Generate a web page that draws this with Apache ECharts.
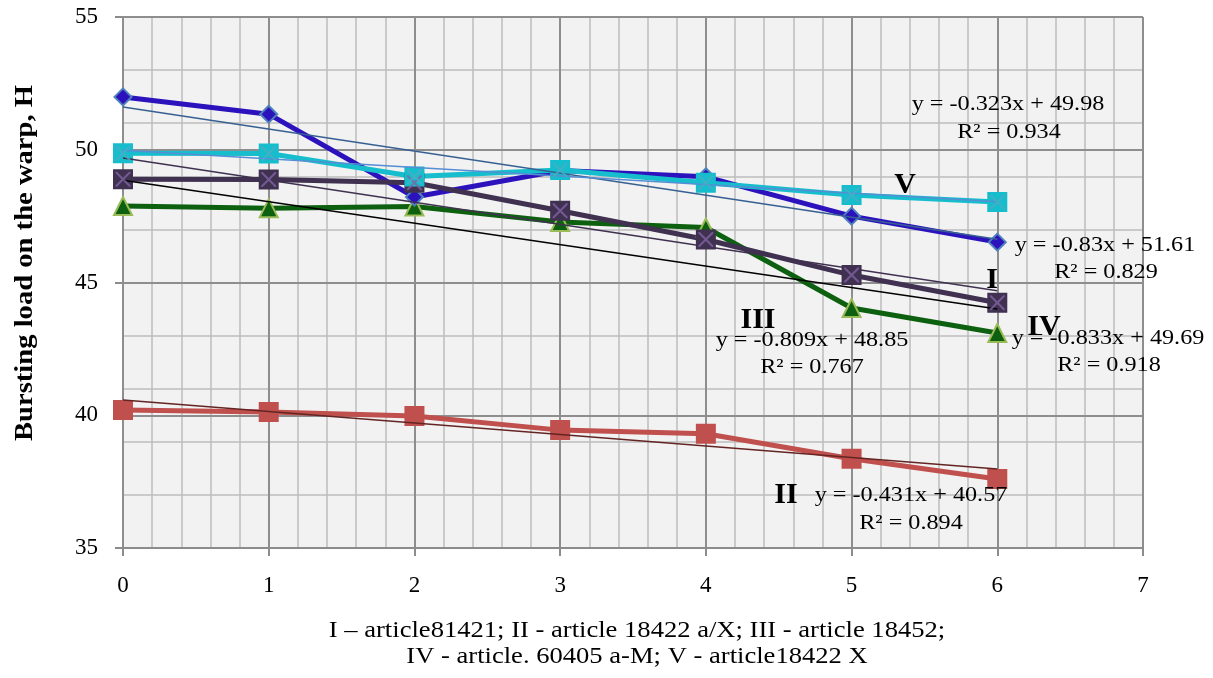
<!DOCTYPE html>
<html><head><meta charset="utf-8">
<script src="https://cdn.jsdelivr.net/npm/echarts@6/dist/echarts.min.js"></script>
<style>html,body{margin:0;padding:0;background:#fff}#c{width:1213px;height:678px}</style>
</head><body><div id="c"></div>
<script>
var xCats = [0, 1, 2, 3, 4, 5, 6];
var seriesI   = [48.89, 48.88, 48.76, 47.70, 46.62, 45.28, 44.24];
var seriesII  = [40.20, 40.12, 39.97, 39.44, 39.30, 38.36, 37.60];
var seriesIII = [47.88, 47.80, 47.86, 47.28, 47.07, 44.04, 43.10];
var seriesIV  = [51.99, 51.34, 48.22, 49.22, 48.98, 47.50, 46.52];
var seriesV   = [49.87, 49.86, 48.99, 49.24, 48.76, 48.30, 48.03];
var trendX = [0, 6];
var trendI   = [49.69, 44.69];
var trendII  = [40.57, 37.98];
var trendIII = [48.85, 44.00];
var trendIV  = [51.61, 46.63];
var trendV   = [49.98, 48.04];
var yTicks = [35, 40, 45, 50, 55];
var xTicks = [0, 1, 2, 3, 4, 5, 6, 7];

function pts(v){ return xCats.map(function(x,i){return [x, v[i]];}); }
function tpts(v){ return trendX.map(function(x,i){return [x, v[i]];}); }

var XPATH = 'path://M0,0 L2,0 L10,8 L18,0 L20,0 L20,2 L12,10 L20,18 L20,20 L18,20 L10,12 L2,20 L0,20 L0,18 L8,10 L0,2 Z';
var SERIF = 'Liberation Serif';

function mainLine(data, color, symbol, size, fill, border){
  return {type:'line', data:pts(data), xAxisIndex:0, yAxisIndex:0, z:3,
    lineStyle:{color:color, width:5}, symbol:symbol, symbolSize:size,
    itemStyle:{color:fill, borderColor:border, borderWidth:2}, emphasis:{disabled:true}, animation:false};
}
function xOverlay(data, color){
  return {type:'scatter', data:pts(data), xAxisIndex:0, yAxisIndex:0, z:5,
    symbol:XPATH, symbolSize:15, itemStyle:{color:color}, animation:false, emphasis:{disabled:true}};
}
function trend(data, color){
  return {type:'line', data:tpts(data), xAxisIndex:0, yAxisIndex:0, z:4, symbol:'none',
    lineStyle:{color:color, width:1.5}, animation:false, emphasis:{disabled:true}};
}
function txt(x, y, s, size, bold, sx){
  return {type:'text', x:x, y:y, z:100, scaleX:sx || 1,
    style:{text:s, font:(bold ? 'bold ' : '') + size + 'px "Liberation Serif"', fill:'#000', align:'center', verticalAlign:'middle'}};
}

var chart = echarts.init(document.getElementById('c'), null, {renderer:'canvas'});
chart.setOption({
  animation:false,
  grid:[{left:123, right:70, top:17, bottom:130, show:true, backgroundColor:'#f2f2f2', borderWidth:0}],
  xAxis:[
    {type:'value', min:0, max:7, interval:1, z:1,
     axisLine:{show:true, onZero:false, lineStyle:{color:'#8c8c8c', width:2}},
     axisTick:{show:true, length:8, lineStyle:{color:'#8c8c8c', width:2}},
     axisLabel:{color:'#000', fontFamily:SERIF, fontSize:23, margin:26},
     splitLine:{show:true, lineStyle:{color:'#8e8e8e', width:2}}},
    {type:'value', min:0, max:7, interval:0.2, z:0, position:'bottom',
     axisLine:{show:false}, axisTick:{show:false}, axisLabel:{show:false},
     splitLine:{show:true, lineStyle:{color:'#bdbdbd', width:1.5}}}
  ],
  yAxis:[
    {type:'value', min:35, max:55, interval:5, z:1,
     axisLine:{show:false}, axisTick:{show:true, inside:false, length:8, lineStyle:{color:'#8c8c8c', width:2}},
     axisLabel:{color:'#000', fontFamily:SERIF, fontSize:23, margin:25},
     splitLine:{show:true, lineStyle:{color:'#8e8e8e', width:2}}},
    {type:'value', min:35, max:55, interval:2, z:0,
     axisLine:{show:false}, axisTick:{show:false}, axisLabel:{show:false},
     splitLine:{show:true, lineStyle:{color:'#bdbdbd', width:1.5}}}
  ],
  series:[
    mainLine(seriesII, '#c0504d', 'rect', 18, '#c0504d', '#c0504d'),
    mainLine(seriesIII, '#0d600f', 'triangle', 18, '#0d600f', '#9bbb59'),
    mainLine(seriesIV, '#2c12bc', 'diamond', 17, '#2c12bc', '#4f81bd'),
    mainLine(seriesI, '#403151', 'rect', 18, '#403151', '#403151'),
    xOverlay(seriesI, '#8064a2'),
    mainLine(seriesV, '#16bdcc', 'rect', 18, '#16bdcc', '#16bdcc'),
    xOverlay(seriesV, '#4bacc6'),
    trend(trendII, '#632523'),
    trend(trendIII, '#000000'),
    trend(trendI, '#403151'),
    trend(trendIV, '#376092'),
    trend(trendV, '#558ed5')
  ],
  graphic:[
    {type:'text', x:25, y:263, rotation:Math.PI/2, scaleX:1.1, style:{text:'Bursting load on the warp, H', font:'bold 26px "Liberation Serif"', fill:'#000', align:'center', verticalAlign:'middle'}},
    txt(1008, 104, 'y = -0.323x + 49.98', 22, false, 1.1),
    txt(1009, 132, 'R² = 0.934', 22, false, 1.1),
    txt(905, 185, 'V', 30, true),
    txt(1105, 245, 'y = -0.83x + 51.61', 22, false, 1.1),
    txt(1106, 272, 'R² = 0.829', 22, false, 1.1),
    txt(992, 280, 'I', 30, true),
    txt(758, 320, 'III', 30, true),
    txt(812, 340, 'y = -0.809x + 48.85', 22, false, 1.1),
    txt(812, 367, 'R² = 0.767', 22, false, 1.1),
    txt(1108, 338, 'y = -0.833x + 49.69', 22, false, 1.1),
    txt(1109, 365, 'R² = 0.918', 22, false, 1.1),
    txt(1044, 327, 'IV', 30, true),
    txt(786, 495, 'II', 30, true),
    txt(911, 495, 'y = -0.431x + 40.57', 22, false, 1.1),
    txt(911, 523, 'R² = 0.894', 22, false, 1.1),
    txt(637, 631, 'I – article81421; II - article 18422 a/X; III - article 18452;', 23, false, 1.156),
    txt(637, 657, 'IV - article. 60405 a-M; V - article18422 X', 23, false, 1.156)
  ]
});
</script></body></html>
